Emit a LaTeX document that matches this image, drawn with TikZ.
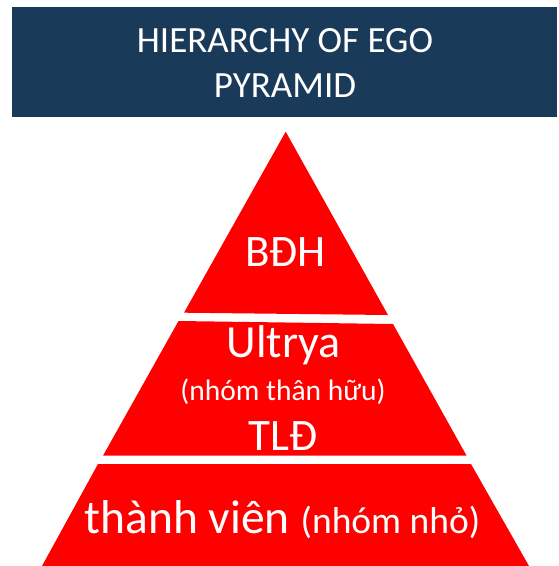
\documentclass[tikz,border=0pt]{standalone}
\usepackage{fontspec}
\setmainfont{Carlito}
\definecolor{navy}{HTML}{1A3A5A}
\definecolor{tierred}{HTML}{FF0000}
\tikzset{
  tier/.style={fill=tierred, draw=none},
  lbl/.style={text=white, anchor=base, inner sep=0pt, outer sep=0pt},
}
\newcommand{\fs}[1]{\fontsize{#1}{#1}\selectfont}
\begin{document}
\begin{tikzpicture}[x=1pt,y=-1pt]
\useasboundingbox (0,0) rectangle (558,566);
% title box
\fill[navy] (12.3,6.7) rectangle (557,117.3);
\node[lbl] (title1) at (285,52) {\fs{37}HIERARCHY OF EGO};
\node[lbl] (title2) at (285,97) {\fs{37}PYRAMID};
% tiers
\fill[tier] (285.7,131.7) -- (388,315) -- (184,312.7) -- cycle;
\fill[tier] (178.5,321) -- (393,324) -- (466.5,455.5) -- (103,455.7) -- cycle;
\fill[tier] (98,464) -- (471,464) -- (529,566) -- (42,566) -- cycle;
% labels
\node[lbl] (bdh) at (285.5,266.7) {\fs{45}BĐH};
\node[lbl] (ultrya) at (283.5,357) {\fs{46}Ultrya};
\node[lbl] (than) at (283,400) {\fs{29.5}(nhóm thân hữu)};
\node[lbl] (tld) at (283,450) {\fs{45}TLĐ};
\node[lbl] (member) at (282.5,533) {\fs{47.5}thành viên \fs{37.5}(nhóm nhỏ)};
\end{tikzpicture}
\end{document}
